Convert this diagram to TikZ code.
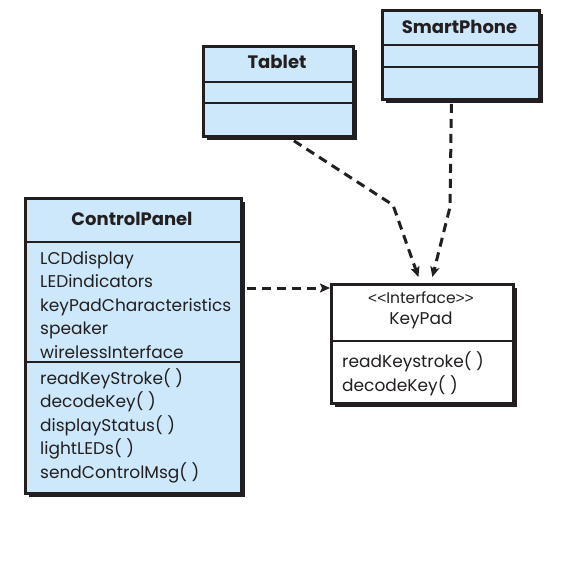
\documentclass[tikz,border=0pt]{standalone}
\usepackage{fontspec}
\setmainfont{Poppins}
\newfontfamily\ltgt{Liberation Sans}
\usetikzlibrary{arrows.meta,shadows,calc}
\definecolor{boxblue}{RGB}{204,232,250}
\definecolor{ink}{RGB}{35,31,32}
\tikzset{
  cls/.style={draw=ink, line width=2.8pt, fill=boxblue, anchor=north west, inner sep=0pt,
    drop shadow={shadow xshift=4pt, shadow yshift=-4pt, fill=ink, opacity=1}},
  iface/.style={cls, fill=white},
  divider/.style={draw=ink, line width=2.5pt},
  title/.style={font=\fontsize{18}{20}\selectfont\bfseries, text=ink, anchor=base},
  item/.style={font=\fontsize{17}{19}\selectfont, text=ink, anchor=base west, inner sep=0pt},
  small/.style={font=\fontsize{15.5}{17}\selectfont, text=ink, anchor=base, inner sep=0pt},
  dep/.style={draw=ink, line width=3pt, dash pattern=on 9pt off 6pt,
    -{Stealth[length=10pt,width=9pt,inset=2pt]}}
}
\begin{document}
\begin{tikzpicture}[x=1pt,y=-1pt]
\useasboundingbox (0,0) rectangle (572,565);
% boxes
\node[cls, minimum width=150pt, minimum height=90pt] (tablet) at (202,45) {};
\node[cls, minimum width=157pt, minimum height=89pt] (phone) at (381,9) {};
\node[cls, minimum width=216pt, minimum height=295pt] (cp) at (24,197) {};
\node[iface, minimum width=182pt, minimum height=119pt] (kp) at (330,283) {};
% dividers
\draw[divider] (tablet.west |- 0,82) -- (tablet.east |- 0,82);
\draw[divider] (tablet.west |- 0,103) -- (tablet.east |- 0,103);
\draw[divider] (phone.west |- 0,45) -- (phone.east |- 0,45);
\draw[divider] (phone.west |- 0,67) -- (phone.east |- 0,67);
\draw[divider] (cp.west |- 0,242) -- (cp.east |- 0,242);
\draw[divider] (cp.west |- 0,362) -- (cp.east |- 0,362);
\draw[divider] (kp.west |- 0,341) -- (kp.east |- 0,341);
% titles
\node[title] (tt) at (277,68) {Tablet};
\node[title] (pt) at (459.5,33) {SmartPhone};
\node[title] (ct) at (132,225) {ControlPanel};
\node[small] (ki) at (421,303) {{\ltgt{<}{<}}Interface{\ltgt{>}{>}}};
\node[item, anchor=base] (kn) at (421,324) {KeyPad};
% ControlPanel items
\node[item] (a1) at (40,264) {LCDdisplay};
\node[item] (a2) at (40,287.5) {LEDindicators};
\node[item] (a3) at (40,311) {keyPadCharacteristics};
\node[item] (a4) at (40,334.5) {speaker};
\node[item] (a5) at (40,358) {wirelessInterface};
\node[item] (m1) at (40,384) {readKeyStroke( )};
\node[item] (m2) at (40,407.5) {decodeKey( )};
\node[item] (m3) at (40,431) {displayStatus( )};
\node[item] (m4) at (40,454.5) {lightLEDs( )};
\node[item] (m5) at (40,478) {sendControlMsg( )};
% KeyPad items
\node[item] (k1) at (342,367) {readKeystroke( )};
\node[item] (k2) at (342,391) {decodeKey( )};
% connectors
\coordinate (tbend) at (393,205);
\coordinate (pbend) at (450,207);
\draw[dep] ([xshift=15.5pt,yshift=-3pt]tablet.south) -- (tbend) -- ([xshift=-4pt,yshift=6pt]kp.north);
\draw[dep] ([xshift=-9.5pt,yshift=-3pt]phone.south) -- (pbend) -- ([xshift=10pt,yshift=6pt]kp.north);
\draw[dep] ([yshift=-5pt]kp.north west -| cp.east) ++(4pt,0) -- ([yshift=-5pt]kp.north west);
\end{tikzpicture}
\end{document}
